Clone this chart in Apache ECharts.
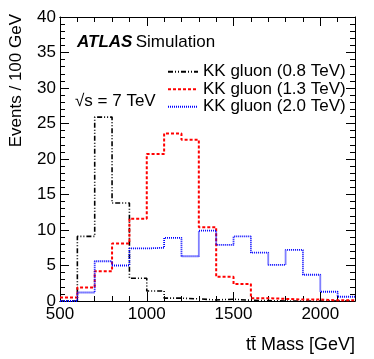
<!DOCTYPE html>
<html>
<head>
<meta charset="utf-8">
<script src="https://cdn.jsdelivr.net/npm/echarts@6/dist/echarts.min.js"></script>
<style>
  html, body { margin: 0; padding: 0; background: #fff; }
  #main { width: 374px; height: 359px; }
</style>
</head>
<body>
<div id="main"></div>
<script>
// bin low edges (GeV), 100 GeV wide
const binEdges = [500, 600, 700, 800, 900, 1000, 1100, 1200, 1300, 1400, 1500, 1600, 1700, 1800, 1900, 2000, 2100];
const lastEdge = 2200;
const gluon08 = [0, 9.1, 25.9, 13.8, 3.2, 1.4, 0.4, 0.3, 0.15, 0.25, 0.1, 0.05, 0, 0, 0, 0, 0];
const gluon13 = [0.5, 1.9, 4.2, 8.1, 11.6, 20.7, 23.6, 22.7, 10.4, 3.4, 2.4, 0.4, 0.3, 0.2, 0.2, 0.1, 0.1];
const gluon20 = [0, 1.2, 5.6, 5.0, 7.4, 7.5, 8.9, 6.3, 9.9, 7.9, 9.1, 6.8, 5.1, 7.2, 3.7, 1.3, 0.6];
const seriesNames = ['KK gluon (0.8 TeV)', 'KK gluon (1.3 TeV)', 'KK gluon (2.0 TeV)'];

const font = '"Liberation Sans", Arial, Helvetica, sans-serif';

function toSteps(vals) {
  let pts = binEdges.map((x, i) => [x, vals[i]]);
  pts.push([lastEdge, vals[vals.length - 1]]);
  return pts;
}

function histSeries(name, vals, color, dash, width) {
  return {
    name: name,
    type: 'line',
    xAxisIndex: 0,
    yAxisIndex: 0,
    step: 'end',
    symbol: 'none',
    showSymbol: false,
    data: toSteps(vals),
    lineStyle: { color: color, width: width, type: dash },
    itemStyle: { color: color },
    animation: false
  };
}

function xAx(pos, interval, len, labels) {
  return {
    type: 'value', position: pos, min: 500, max: 2200, interval: interval,
    axisLine: { show: true, onZero: false, lineStyle: { color: '#000', width: 1 } },
    axisTick: { show: true, inside: true, length: len, lineStyle: { color: '#000' } },
    axisLabel: {
      show: labels, showMaxLabel: false, color: '#000', fontSize: 17, fontFamily: font, margin: 5,
      formatter: (v) => String(v)
    },
    splitLine: { show: false }
  };
}

function yAx(pos, labels) {
  return {
    type: 'value', position: pos, min: 0, max: 40, interval: 5,
    axisLine: { show: true, onZero: false, lineStyle: { color: '#000', width: 1 } },
    axisTick: { show: true, inside: true, length: 9, lineStyle: { color: '#000' } },
    minorTick: { show: true, splitNumber: 5, length: 5, lineStyle: { color: '#000' } },
    axisLabel: { show: labels, color: '#000', fontSize: 17, fontFamily: font, margin: 4 },
    splitLine: { show: false }
  };
}

let chart = echarts.init(document.getElementById('main'), null, { renderer: 'canvas' });
let option = {
  backgroundColor: '#fff',
  animation: false,
  grid: { left: 60, right: 19, top: 17, bottom: 58 },
  xAxis: [
    xAx('bottom', 500, 9, true),
    xAx('bottom', 100, 5, false),
    xAx('top', 500, 9, false),
    xAx('top', 100, 5, false)
  ],
  yAxis: [yAx('left', true), yAx('right', false)],
  legend: {
    orient: 'vertical',
    left: 162,
    top: 58,
    itemWidth: 30,
    itemHeight: 10,
    itemGap: 0,
    itemStyle: { opacity: 0, borderWidth: 0 },
    textStyle: { color: '#000', fontSize: 17, lineHeight: 17.5, fontFamily: font },
    data: seriesNames
  },
  graphic: [
    {
      type: 'text', left: 77, top: 34,
      style: {
        text: '{a|ATLAS} {b|Simulation}',
        rich: {
          a: { fontSize: 17, fontWeight: 'bold', fontStyle: 'italic', fontFamily: font, fill: '#000' },
          b: { fontSize: 17, fontFamily: font, fill: '#000' }
        }
      }
    },
    {
      type: 'text', left: 75, top: 93,
      style: { text: '\u221As = 7 TeV', fontSize: 17, fontFamily: font, fill: '#000' }
    },
    {
      type: 'text', x: 16, y: 14, rotation: Math.PI / 2,
      style: { text: 'Events / 100 GeV', fontSize: 17, fontFamily: font, fill: '#000', align: 'right', verticalAlign: 'middle' }
    },
    {
      type: 'text', x: 355, y: 345,
      style: { text: 'tt\u0304 Mass [GeV]', fontSize: 18, fontFamily: font, fill: '#000', align: 'right', verticalAlign: 'middle' }
    }
  ],
  series: [
    histSeries(seriesNames[0], gluon08, '#000000', [5, 2, 1, 2, 1, 2], 1.6),
    histSeries(seriesNames[1], gluon13, '#ff0000', [3, 2], 2),
    histSeries(seriesNames[2], gluon20, '#0000ff', [1, 1], 1.8)
  ]
};
chart.setOption(option, true);
window.addEventListener('resize', function () {
  chart.resize();
});
</script>
</body>
</html>
